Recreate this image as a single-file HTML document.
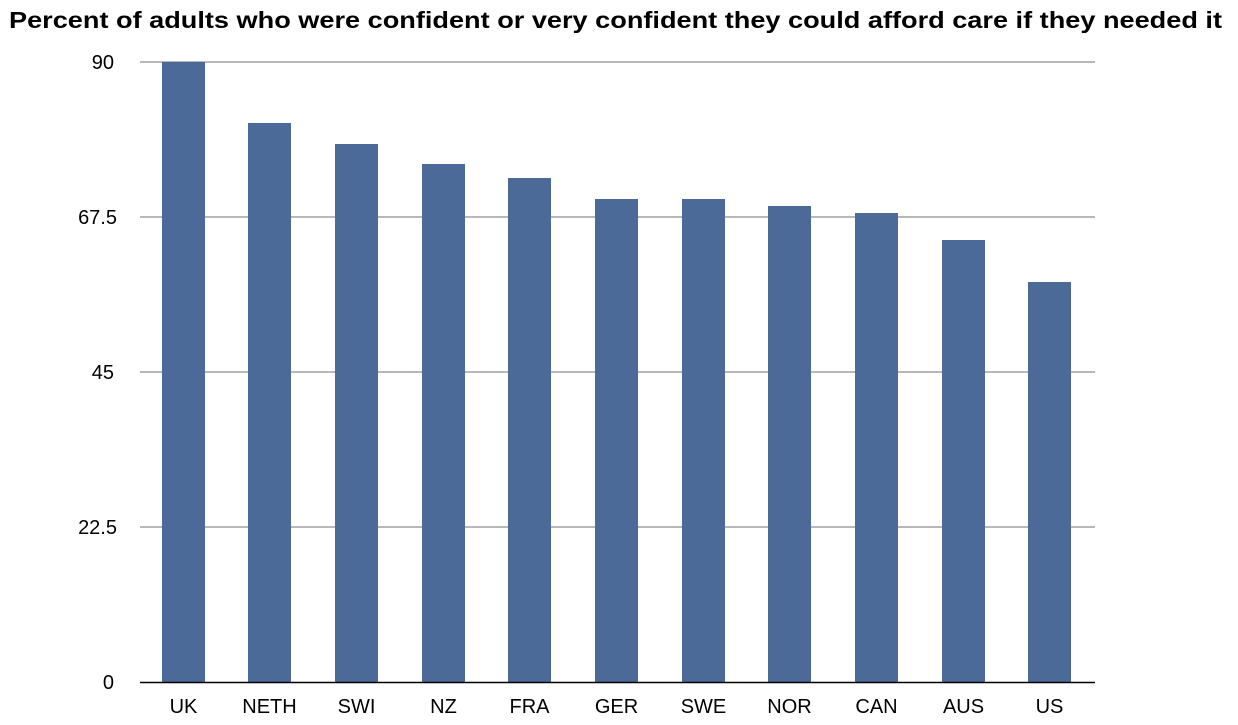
<!DOCTYPE html>
<html><head><style>
body{margin:0;width:1238px;height:725px;background:#fff;font-family:"Liberation Sans",Arial,sans-serif;position:relative;overflow:hidden}
</style></head><body>
<svg width="1238" height="725" style="position:absolute;left:0;top:0" font-family="Liberation Sans, Arial, sans-serif" font-size="20">
<text x="9" y="28" font-size="23" font-weight="bold" textLength="1213" lengthAdjust="spacingAndGlyphs">Percent of adults who were confident or very confident they could afford care if they needed it</text>
<g stroke="#a0a0a0" stroke-width="1.5">
<line x1="140" x2="1095" y1="62" y2="62"/>
<line x1="140" x2="1095" y1="217" y2="217"/>
<line x1="140" x2="1095" y1="372" y2="372"/>
<line x1="140" x2="1095" y1="527" y2="527"/>
</g>
<g fill="#4c6a98">
<rect x="162" y="62" width="43" height="620"/>
<rect x="248" y="123" width="43" height="559"/>
<rect x="335" y="144" width="43" height="538"/>
<rect x="422" y="164" width="43" height="518"/>
<rect x="508" y="178" width="43" height="504"/>
<rect x="595" y="199" width="43" height="483"/>
<rect x="682" y="199" width="43" height="483"/>
<rect x="768" y="206" width="43" height="476"/>
<rect x="855" y="213" width="43" height="469"/>
<rect x="942" y="240" width="43" height="442"/>
<rect x="1028" y="282" width="43" height="400"/>
</g>
<line x1="140" x2="1095" y1="682.5" y2="682.5" stroke="#000" stroke-width="1.5"/>
<g text-anchor="end" fill="#000">
<text x="114" y="69">90</text>
<text x="117" y="224">67.5</text>
<text x="114" y="379">45</text>
<text x="117" y="534">22.5</text>
<text x="114" y="689">0</text>
</g>
<g text-anchor="middle" fill="#000">
<text x="183.5" y="713">UK</text>
<text x="269.5" y="713">NETH</text>
<text x="356.5" y="713">SWI</text>
<text x="443.5" y="713">NZ</text>
<text x="529.5" y="713">FRA</text>
<text x="616.5" y="713">GER</text>
<text x="703.5" y="713">SWE</text>
<text x="789.5" y="713">NOR</text>
<text x="876.5" y="713">CAN</text>
<text x="963.5" y="713">AUS</text>
<text x="1049.5" y="713">US</text>
</g>
</svg>
</body></html>
